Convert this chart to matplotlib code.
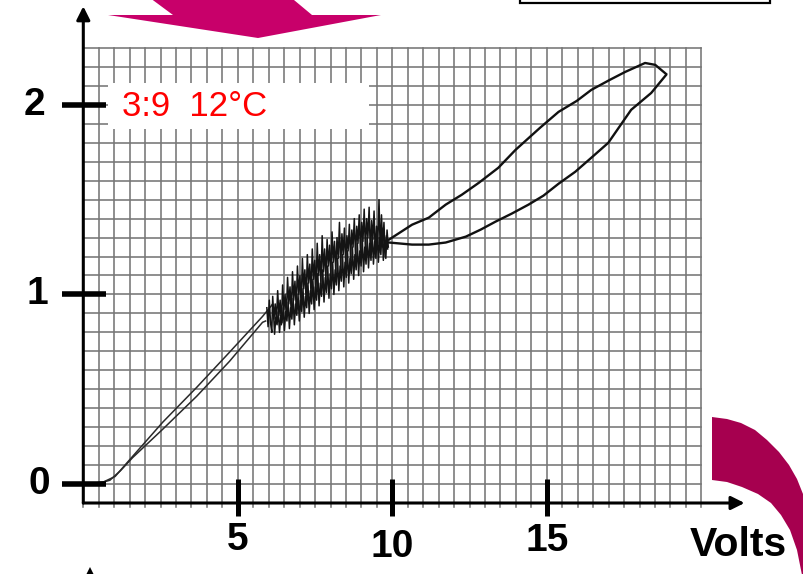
import matplotlib
matplotlib.use('Agg')
import matplotlib.pyplot as plt
from matplotlib.patches import Polygon, Rectangle
import numpy as np

# Tick values on both axes
x_ticks = [5, 10, 15]
y_ticks = [0, 1, 2]
x_label = 'Volts'
note = '3:9  12°C'

# Start of the sweep: flat foot then the rising straight line
volts_rise = [0.0, 0.64, 0.86, 1.20, 1.60, 2.57, 3.67, 4.73, 5.80, 5.90]
amps_rise = [0.0, 0.01, 0.02, 0.07, 0.14, 0.289, 0.463, 0.647, 0.853, 0.86]

# Noisy stretch going up
volts_noise_up = [5.94, 5.98, 6.02, 6.06, 6.10, 6.13, 6.17, 6.21, 6.25, 6.29,
                  6.33, 6.37, 6.41, 6.45, 6.49, 6.53, 6.57, 6.61, 6.65, 6.69,
                  6.73, 6.77, 6.81, 6.85, 6.89, 6.93, 6.97, 7.01, 7.05, 7.09,
                  7.13, 7.17, 7.21, 7.25, 7.29, 7.33, 7.37, 7.41, 7.45, 7.49,
                  7.53, 7.57, 7.61, 7.65, 7.69, 7.73, 7.77, 7.81, 7.85, 7.89,
                  7.93, 7.97, 8.01, 8.05, 8.09, 8.13, 8.17, 8.21, 8.25, 8.29,
                  8.33, 8.37, 8.41, 8.45, 8.49, 8.53, 8.57, 8.61, 8.65, 8.69,
                  8.73, 8.77, 8.81, 8.85, 8.89, 8.93, 8.97, 9.01, 9.05, 9.09,
                  9.13, 9.17, 9.21, 9.25, 9.29, 9.33, 9.37, 9.41, 9.45, 9.49,
                  9.53, 9.57, 9.61, 9.65, 9.69, 9.73, 9.77, 9.81, 9.85]
amps_noise_up = [0.93, 0.83, 0.97, 0.85, 0.80, 0.99, 0.87, 0.95, 0.86, 1.02,
                 0.89, 0.97, 0.84, 1.05, 0.92, 1.00, 0.88, 1.09, 0.95, 1.04,
                 0.90, 1.12, 0.97, 1.07, 0.93, 1.15, 1.00, 1.10, 0.94, 1.19,
                 1.03, 1.13, 0.97, 1.21, 1.06, 1.16, 1.00, 1.24, 1.08, 1.18,
                 1.02, 1.27, 1.10, 1.21, 1.05, 1.31, 1.12, 1.24, 1.08, 1.29,
                 1.15, 1.26, 1.10, 1.33, 1.17, 1.28, 1.12, 1.30, 1.19, 1.38,
                 1.14, 1.32, 1.21, 1.35, 1.16, 1.31, 1.23, 1.37, 1.18, 1.34,
                 1.25, 1.40, 1.20, 1.36, 1.27, 1.42, 1.22, 1.38, 1.28, 1.45,
                 1.23, 1.40, 1.30, 1.46, 1.21, 1.39, 1.29, 1.44, 1.20, 1.36,
                 1.27, 1.50, 1.22, 1.42, 1.25, 1.38, 1.20, 1.31, 1.24]

# Upper branch of the loop out to the turning point
volts_loop_up = [9.89, 10.64, 11.18, 11.73, 12.25, 12.80, 13.43, 13.99, 14.78, 15.38,
                 15.97, 16.44, 17.04, 17.54, 18.18, 18.51, 18.86]
amps_loop_up = [1.289, 1.368, 1.405, 1.474, 1.526, 1.589, 1.668, 1.763, 1.879, 1.963,
                2.021, 2.079, 2.132, 2.174, 2.221, 2.211, 2.163]

# Lower branch of the loop coming back
volts_loop_down = [18.86, 18.38, 17.73, 16.99, 16.44, 15.92, 15.38, 14.89, 14.41, 13.86,
                   13.34, 12.86, 12.38, 11.73, 11.18, 10.64, 9.89]
amps_loop_down = [2.158, 2.063, 1.974, 1.800, 1.721, 1.647, 1.584, 1.521, 1.474, 1.426,
                  1.384, 1.342, 1.305, 1.274, 1.263, 1.263, 1.274]

# Noisy stretch going down
volts_noise_down = [9.87, 9.83, 9.79, 9.75, 9.71, 9.67, 9.63, 9.59, 9.55, 9.51,
                    9.47, 9.43, 9.39, 9.35, 9.31, 9.27, 9.23, 9.19, 9.15, 9.11,
                    9.07, 9.03, 8.99, 8.95, 8.91, 8.87, 8.83, 8.79, 8.75, 8.71,
                    8.67, 8.63, 8.59, 8.55, 8.51, 8.47, 8.43, 8.39, 8.35, 8.31,
                    8.27, 8.23, 8.19, 8.15, 8.11, 8.07, 8.03, 7.99, 7.95, 7.91,
                    7.87, 7.83, 7.79, 7.75, 7.71, 7.67, 7.63, 7.59, 7.55, 7.51,
                    7.47, 7.43, 7.39, 7.35, 7.31, 7.27, 7.23, 7.19, 7.15, 7.11,
                    7.07, 7.03, 6.99, 6.95, 6.91, 6.87, 6.83, 6.79, 6.75, 6.71,
                    6.67, 6.63, 6.59, 6.55, 6.51, 6.47, 6.43, 6.39, 6.35, 6.31,
                    6.27, 6.23, 6.19, 6.15, 6.12]
amps_noise_down = [1.25, 1.34, 1.19, 1.29, 1.18, 1.35, 1.21, 1.30, 1.17, 1.33,
                   1.19, 1.28, 1.16, 1.32, 1.18, 1.27, 1.14, 1.30, 1.16, 1.25,
                   1.12, 1.29, 1.15, 1.23, 1.10, 1.27, 1.13, 1.21, 1.08, 1.25,
                   1.11, 1.19, 1.06, 1.23, 1.09, 1.17, 1.04, 1.21, 1.07, 1.15,
                   1.02, 1.19, 1.05, 1.13, 1.00, 1.17, 1.03, 1.11, 0.98, 1.15,
                   1.01, 1.09, 0.96, 1.13, 0.99, 1.06, 0.94, 1.11, 0.97, 1.04,
                   0.92, 1.08, 0.95, 1.02, 0.90, 1.06, 0.93, 0.99, 0.88, 1.03,
                   0.91, 0.97, 0.86, 1.00, 0.89, 0.95, 0.84, 0.98, 0.87, 0.93,
                   0.82, 0.96, 0.86, 0.91, 0.81, 0.93, 0.85, 0.89, 0.80, 0.91,
                   0.84, 0.88, 0.79, 0.92, 0.947]

# Falling straight line back to the foot
volts_fall = [6.12, 5.80, 4.73, 3.67, 2.57, 1.51, 1.03, 0.64, 0.0]
amps_fall = [0.947, 0.884, 0.695, 0.51, 0.326, 0.13, 0.04, 0.01, 0.0]

W, H = 804, 574
fig = plt.figure(figsize=(W / 100, H / 100), dpi=100)
fig.patch.set_facecolor('white')

# pixel layout of the plotting area
x0_px, px_per_volt = 83.3, 30.9
y_top_px, y_bot_px = 48, 503
ax = fig.add_axes([x0_px / W, (H - y_bot_px) / H, 20 * px_per_volt / W, (y_bot_px - y_top_px) / H])
ax.set_xlim(0, 20)
ax.set_ylim(-0.1, 2.3)
ax.axis('off')
ax.patch.set_alpha(0)

# fine grid
grid_col = '#767676'
for gx in np.arange(0, 20.01, 0.5):
    ax.plot([gx, gx], [-0.12, 2.3], color=grid_col, lw=1.15, zorder=1, clip_on=False)
for gy in np.arange(-0.1, 2.31, 0.1):
    ax.plot([0, 20], [gy, gy], color=grid_col, lw=1.15, zorder=1, clip_on=False)

# white label box
ax.add_patch(Rectangle((0.8, 1.872), 8.45, 0.243, facecolor='white', edgecolor='none', zorder=2))
ax.text(1.24, 1.99, note, color='#ff0000', fontsize=25, family='Liberation Sans',
        ha='left', va='center', zorder=3)

# the trace, straight parts thin, noisy part and loop heavier
ax.plot(volts_rise, amps_rise, color='#2a2a2a', lw=1.1, zorder=4)
ax.plot(volts_fall, amps_fall, color='#2a2a2a', lw=1.1, zorder=4)
ax.plot(volts_noise_up, amps_noise_up, color='#141414', lw=1.1, zorder=4)
ax.plot(volts_noise_down, amps_noise_down, color='#141414', lw=1.1, zorder=4)
ax.plot(volts_loop_up, amps_loop_up, color='#111111', lw=1.7, zorder=4, solid_joinstyle='round')
ax.plot(volts_loop_down, amps_loop_down, color='#111111', lw=1.7, zorder=4, solid_joinstyle='round')

# axes with arrowheads
ax.annotate('', xy=(0, 2.52), xytext=(0, -0.1), annotation_clip=False,
            arrowprops=dict(arrowstyle='-|>', lw=2.2, color='black', mutation_scale=20, shrinkA=0, shrinkB=0), zorder=5)
ax.annotate('', xy=(21.4, -0.1), xytext=(0, -0.1), annotation_clip=False,
            arrowprops=dict(arrowstyle='-|>', lw=2.2, color='black', mutation_scale=20, shrinkA=0, shrinkB=0), zorder=5)

# tick marks
for yv in y_ticks:
    ax.plot([-0.69, 0.73], [yv, yv], color='black', lw=4, solid_capstyle='butt', zorder=5, clip_on=False)
for xv in x_ticks:
    ax.plot([xv, xv], [0.026, -0.168], color='black', lw=3.6, solid_capstyle='butt', zorder=5, clip_on=False)

bold = dict(fontsize=28, fontweight='bold', family='Liberation Sans', ha='center', va='center')
y_label_x = [-1.42, -1.5, -1.57]
for yv, lx in zip(y_ticks, y_label_x):
    ax.text(lx, yv, str(yv), **bold)
x_label_y = [-0.295, -0.33, -0.30]
for xv, ly in zip(x_ticks, x_label_y):
    ax.text(xv, ly, str(xv), **bold)
ax.text(21.2, -0.32, x_label, fontsize=29.5, fontweight='bold', family='Liberation Sans',
        ha='center', va='center')

# decorations in pixel space
deco = fig.add_axes([0, 0, 1, 1], zorder=-1)
deco.set_xlim(0, W)
deco.set_ylim(H, 0)
deco.axis('off')

top_arrow = [(146, -5), (173, 15), (108, 15), (258, 38), (381, 15), (312, 15), (288, -5)]
deco.add_patch(Polygon(top_arrow, closed=True, facecolor='#c8006a', edgecolor='none'))

outer = [(712, 417), (727, 419), (741, 423), (755, 430), (767, 440), (779, 452),
         (789, 465), (797, 479), (803, 494), (808, 510), (810, 580)]
inner = [(803, 580), (800, 565), (797, 550), (790, 530), (781, 515), (771, 503),
         (758, 494), (742, 487), (727, 482), (712, 480)]
deco.add_patch(Polygon(outer + inner, closed=True, facecolor='#a6004f', edgecolor='none'))

deco.add_patch(Rectangle((520, -20), 250, 23, facecolor='none', edgecolor='black', lw=1.6))
deco.add_patch(Polygon([(86, 575), (90, 567), (94, 575)], closed=True, facecolor='black', edgecolor='none'))

fig.savefig('out.png', dpi=100)
